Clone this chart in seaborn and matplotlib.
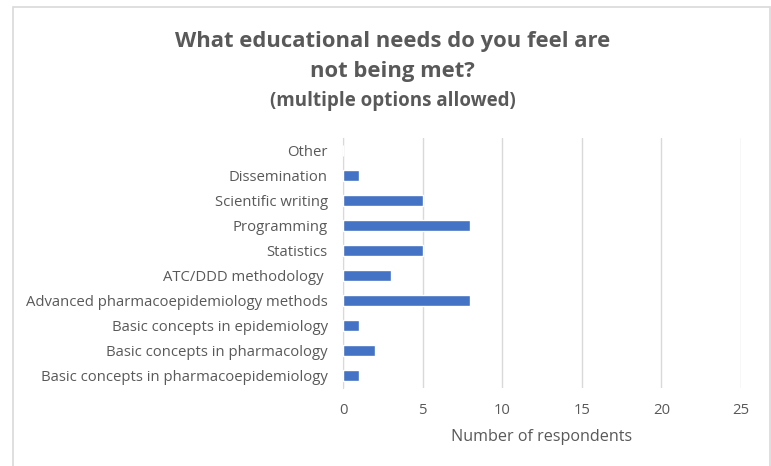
import matplotlib
matplotlib.use("Agg")
import matplotlib.pyplot as plt
import seaborn as sns
import pandas as pd
from matplotlib.patches import Rectangle

# data, top to bottom as shown
categories = [
    "Other",
    "Dissemination",
    "Scientific writing",
    "Programming",
    "Statistics",
    "ATC/DDD methodology ",
    "Advanced pharmacoepidemiology methods",
    "Basic concepts in epidemiology",
    "Basic concepts in pharmacology",
    "Basic concepts in pharmacoepidemiology",
]
respondents = [0, 1, 5, 8, 5, 3, 8, 1, 2, 1]
x_ticks = [0, 5, 10, 15, 20, 25]

df = pd.DataFrame({"Need": categories, "Respondents": respondents})

sns.set_style("white")
plt.rcParams["font.family"] = ["Open Sans", "DejaVu Sans"]
grey = "#595959"

fig = plt.figure(figsize=(7.71, 4.66), dpi=100)
ax = fig.add_axes([343 / 771, 1 - 388 / 466, 398 / 771, 250 / 466])

sns.barplot(data=df, x="Respondents", y="Need", color="#4472C4",
            width=0.42, saturation=1, ax=ax, zorder=3)

ax.set_xlim(0, 25)
ax.set_xticks(x_ticks)
ax.set_xticklabels([str(t) for t in x_ticks])
ax.grid(axis="x", color="#d9d9d9", linewidth=1, zorder=0)
ax.set_axisbelow(True)
for s in ["top", "right", "bottom"]:
    ax.spines[s].set_visible(False)
ax.spines["left"].set_color("#d9d9d9")
ax.spines["left"].set_zorder(1)
ax.tick_params(axis="both", length=0, colors=grey, labelsize=10.7)
ax.tick_params(axis="y", pad=11)
ax.tick_params(axis="x", pad=11)
ax.set_ylabel("")
ax.set_xlabel("Number of respondents", color=grey, fontsize=11.6, labelpad=8)

fig.text(0.509, 1 - 41 / 466, "What educational needs do you feel are",
         ha="center", va="center", fontsize=15.8, fontweight="bold", color=grey)
fig.text(0.509, 1 - 71 / 466, "not being met?",
         ha="center", va="center", fontsize=15.8, fontweight="bold", color=grey)
fig.text(0.509, 1 - 101 / 466, "(multiple options allowed)",
         ha="center", va="center", fontsize=13.5, fontweight="bold", color=grey)

# light border around chart area
fig.patches.append(Rectangle((13 / 771, -0.02), (770 - 13) / 771, 1.02 - 7 / 466,
                             transform=fig.transFigure, fill=False,
                             edgecolor="#d9d9d9", linewidth=1.2))

fig.savefig("out.png", dpi=100)
